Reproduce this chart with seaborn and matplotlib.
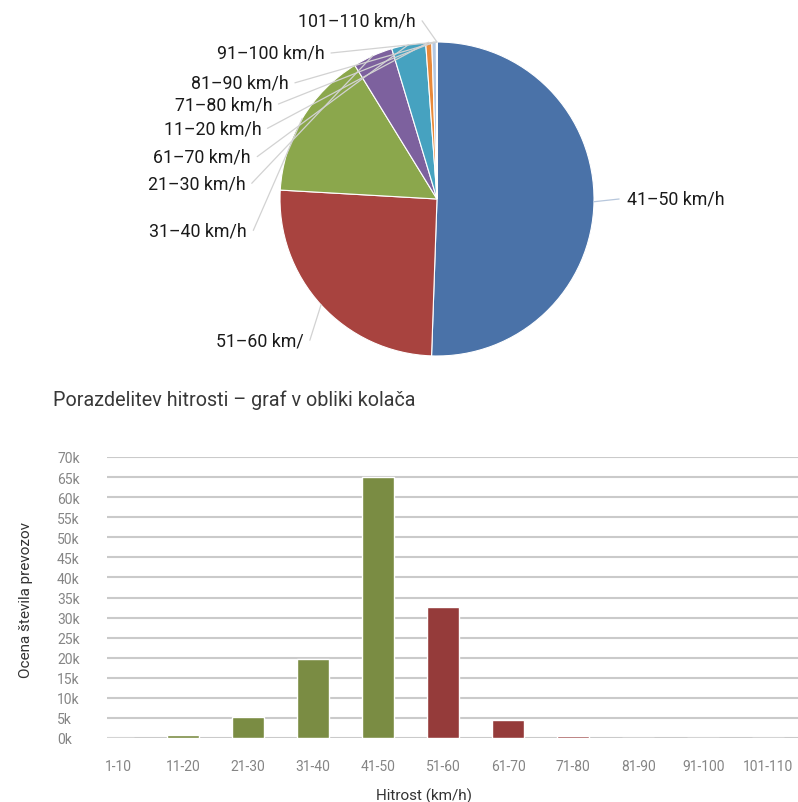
import matplotlib
matplotlib.use("Agg")
import matplotlib.pyplot as plt
import seaborn as sns
import numpy as np
import pandas as pd

# ---- data ----
categories = ['1-10', '11-20', '21-30', '31-40', '41-50', '51-60',
              '61-70', '71-80', '81-90', '91-100', '101-110']
counts_k = [0.0, 0.8, 5.3, 19.7, 65.0, 32.6, 4.5, 0.6, 0.05, 0.02, 0.01]
bar_groups = ['low', 'low', 'low', 'low', 'low', 'high',
              'high', 'high', 'high', 'high', 'high']
yticks_k = [0, 5, 10, 15, 20, 25, 30, 35, 40, 45, 50, 55, 60, 65, 70]

pie_labels = ['41–50 km/h', '51–60 km/', '31–40 km/h', '21–30 km/h', '61–70 km/h',
              '11–20 km/h', '71–80 km/h', '81–90 km/h', '91–100 km/h', '101–110 km/h']
pie_cats = ['41-50', '51-60', '31-40', '21-30', '61-70',
            '11-20', '71-80', '81-90', '91-100', '101-110']
pie_colors = ['#4A72A8', '#A8433F', '#8BA74C', '#7D619E', '#46A2C0',
              '#E8893A', '#B4C8E2', '#5B4478', '#2F7F99', '#B5652A']

title_text = 'Porazdelitev hitrosti – graf v obliki kolača'

sns.set_theme(style='white')
plt.rcParams['font.family'] = ['Roboto', 'DejaVu Sans']

W, H = 798, 803
fig = plt.figure(figsize=(W / 100, H / 100), dpi=100)

# ---- pie ----
cx, cy, r = 437, 200, 157
pax = fig.add_axes([(cx - r) / W, (H - cy - r) / H, 2 * r / W, 2 * r / H])
lookup = dict(zip(categories, counts_k))
pie_vals = [lookup[c] for c in pie_cats]
wedges, _ = pax.pie(pie_vals, colors=pie_colors, startangle=90, counterclock=False,
                    radius=1.0, wedgeprops=dict(edgecolor='white', linewidth=0.8))
pax.set_xlim(-1, 1)
pax.set_ylim(-1, 1)
pax.set_aspect('equal')
pax.axis('off')

# label layout (data coords of pie axes)
label_pos = {
    '41–50 km/h': (1.21, 0.0, 'left'),
    '51–60 km/': (-0.85, -0.90, 'right'),
    '31–40 km/h': (-1.21, -0.20, 'right'),
    '21–30 km/h': (-1.22, 0.10, 'right'),
    '61–70 km/h': (-1.185, 0.27, 'right'),
    '11–20 km/h': (-1.12, 0.45, 'right'),
    '71–80 km/h': (-1.05, 0.605, 'right'),
    '81–90 km/h': (-0.945, 0.74, 'right'),
    '91–100 km/h': (-0.715, 0.93, 'right'),
    '101–110 km/h': (-0.135, 1.135, 'right'),
}
for w, lab in zip(wedges, pie_labels):
    th = np.deg2rad((w.theta1 + w.theta2) / 2)
    ex, ey = 1.0 * np.cos(th), 1.0 * np.sin(th)
    tx, ty, ha = label_pos[lab]
    lx = tx - 0.05 if ha == 'left' else tx + 0.04
    lc = '#B7C7DC' if ha == 'left' else '#D2D2D2'
    pax.plot([ex, lx], [ey, ty], color=lc, lw=0.9, clip_on=False)
    pax.text(tx, ty, lab, ha=ha, va='center', fontsize=12.8, color='#1a1a1a',
             clip_on=False)

fig.text(53 / W, 1 - 400 / H, title_text, ha='left', va='center',
         fontsize=14.2, color='#383838')

# ---- bars ----
left_px, right_px, bot_px, top_px = 107, 800, 739, 458
bax = fig.add_axes([left_px / W, (H - bot_px) / H, (right_px - left_px) / W,
                    (bot_px - top_px) / H])
df = pd.DataFrame({'cat': categories, 'val': counts_k, 'grp': bar_groups})
sns.barplot(data=df, x='cat', y='val', hue='grp', order=categories,
            palette={'low': '#7A8C43', 'high': '#953B3A'}, width=0.5,
            dodge=False, legend=False, ax=bax, saturation=1)
bax.set_ylim(0, 70)
bax.set_xlim(-0.17, 10.49)
bax.set_yticks(yticks_k)
bax.set_yticklabels([f'{v}k' for v in yticks_k])
bax.grid(axis='y', color='#CACACA', linewidth=1.5)
bax.set_axisbelow(True)
for s in bax.spines.values():
    s.set_visible(False)
bax.tick_params(axis='y', length=0, pad=36, labelsize=10, labelcolor='#858585')
for t in bax.get_yticklabels():
    t.set_horizontalalignment('left')
bax.tick_params(axis='x', length=0, pad=15, labelsize=10, labelcolor='#858585')
bax.set_ylabel('Ocena števila prevozov', fontsize=11, color='#333333')
bax.yaxis.set_label_coords(-0.107, 0.495)
bax.set_xlabel('Hitrost (km/h)', fontsize=11, color='#333333')
bax.xaxis.set_label_coords(0.457, -0.175)

fig.savefig('out.png', dpi=100)
